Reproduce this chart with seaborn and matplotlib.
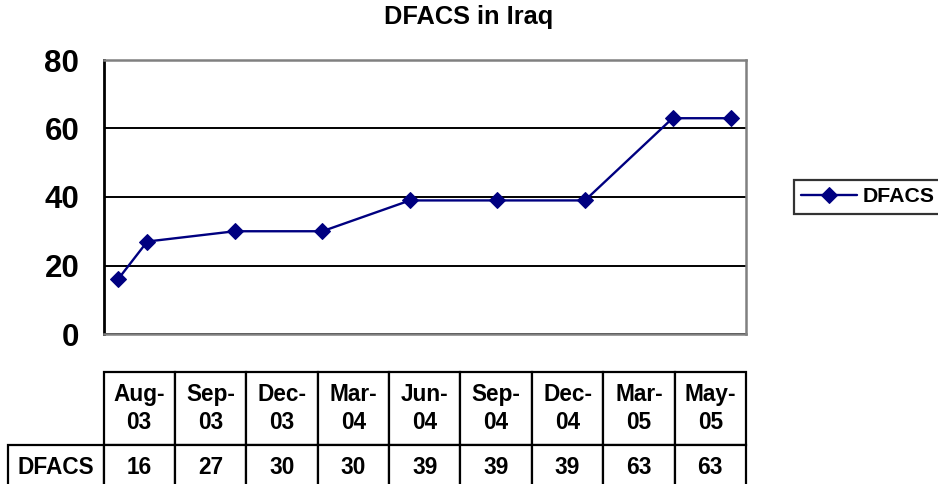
"""
DFACS in Iraq - line chart with data table underneath (Excel style)
"""

import pandas as pd
import seaborn as sns
import matplotlib.pyplot as plt
from matplotlib.table import Table

# Data
months = ["Aug-03", "Sep-03", "Dec-03", "Mar-04", "Jun-04",
          "Sep-04", "Dec-04", "Mar-05", "May-05"]
dfacs = [16, 27, 30, 30, 39, 39, 39, 63, 63]
series_name = "DFACS"
y_ticks = [0, 20, 40, 60, 80]


def main():
    sns.set_style("white")
    plt.rcParams["font.family"] = ["Liberation Sans", "DejaVu Sans"]
    plt.rcParams["font.weight"] = "bold"
    for key in ("text.color", "axes.labelcolor", "xtick.color", "ytick.color"):
        plt.rcParams[key] = "black"

    # time-scale axis in months, like Excel's date axis
    dates = pd.to_datetime(months, format="%b-%y")
    month_idx = (dates.year - dates[0].year) * 12 + dates.month - dates[0].month
    df = pd.DataFrame({"month": month_idx, series_name: dfacs})

    W, H = 938, 484
    fig = plt.figure(figsize=(W / 100, H / 100), dpi=100)
    ax = fig.add_axes([103.5 / W, 1 - 334 / H, 642 / W, 274 / H])

    sns.lineplot(
        data=df, x="month", y=series_name, ax=ax,
        color="#000080", linewidth=1.7, marker="D", markersize=8,
        markeredgecolor="#000080", label=series_name,
    )

    ax.set_xlim(-0.5, month_idx[-1] + 0.5)
    ax.set_ylim(0, 80)
    ax.set_yticks(y_ticks)
    ax.set_xticks([])
    ax.set_xlabel("")
    ax.set_ylabel("")
    ax.tick_params(axis="y", direction="out", length=7.5, width=1.8,
                   color="black", pad=10, labelsize=22.5)
    for lab in ax.get_yticklabels():
        lab.set_fontweight("bold")
    ax.grid(axis="y", color="black", linewidth=1.4)
    ax.set_axisbelow(True)
    for side in ("top", "right", "bottom"):
        ax.spines[side].set_color("#808080")
        ax.spines[side].set_linewidth(1.8)
    ax.spines["left"].set_color("black")
    ax.spines["left"].set_linewidth(2)

    fig.text(0.5, 1 - 17 / H, "DFACS in Iraq", ha="center", va="center",
             fontsize=18.3, fontweight="bold")

    # Legend, off to the right
    leg = ax.legend(
        loc="upper left", bbox_to_anchor=(794 / W, 1 - 180 / H),
        bbox_transform=fig.transFigure, frameon=True, fancybox=False,
        fontsize=15.3, handlelength=2.6, handletextpad=0.3, borderpad=0.35,
        borderaxespad=0,
    )
    leg.get_frame().set_edgecolor("black")
    leg.get_frame().set_linewidth(1.6)
    for t in leg.get_texts():
        t.set_fontweight("bold")

    # Data table beneath the plot; column 0 holds the row label,
    # the header row has no corner cell
    tl, tr = 8, 746
    top, bot = 372, 490
    row_w = 103.5 - tl
    col_w = (tr - 103.5) / len(months)
    hdr_h, dat_h = 73, 45
    tab = Table(ax, bbox=[(tl - 103.5) / 642, (334 - bot) / 274,
                          (tr - tl) / 642, (bot - top) / 274])
    tab.add_cell(1, 0, width=row_w, height=dat_h, text=series_name,
                 loc="center")
    for j, m in enumerate(months, start=1):
        tab.add_cell(0, j, width=col_w, height=hdr_h,
                     text=m.replace("-", "-\n"), loc="center")
        tab.add_cell(1, j, width=col_w, height=dat_h,
                     text=str(dfacs[j - 1]), loc="center")
    tab.auto_set_font_size(False)
    tab.set_fontsize(16.3)
    for cell in tab.get_celld().values():
        cell.set_edgecolor("black")
        cell.set_linewidth(1.6)
        cell.get_text().set_fontweight("bold")
        cell.get_text().set_color("black")
        cell.get_text().set_linespacing(1.25)
    ax.add_table(tab)

    fig.savefig("out.png", dpi=100)


if __name__ == "__main__":
    main()
